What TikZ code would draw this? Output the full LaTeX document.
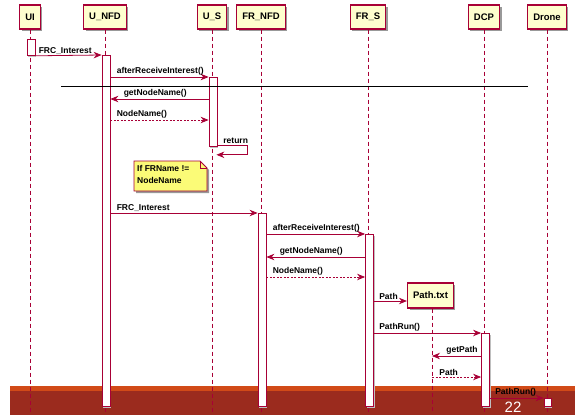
\documentclass[tikz,border=0pt]{standalone}
\usepackage{fontspec}
\newfontfamily\umlfont{Liberation Sans}
\usetikzlibrary{%
        arrows.meta,%
        calc,%
        shadows%
    }
\definecolor{umlred}{HTML}{A80036}
\definecolor{umlbox}{HTML}{FEFECE}
\definecolor{umlnote}{HTML}{FBFB77}
\definecolor{slideorange}{HTML}{D14A18}
\definecolor{slidered}{HTML}{9B2B1E}

\begin{document}
\begin{tikzpicture}[x=1pt,y=-1pt,
    actor/.style={draw=umlred,fill=umlbox,line width=1.3pt,minimum height=24pt,
      inner xsep=5.5pt,inner ysep=0pt,text=black,
      font=\umlfont\bfseries\fontsize{9.5}{11}\selectfont,
      drop shadow={shadow xshift=2pt,shadow yshift=-2pt,fill=black!40,opacity=1}},
    life/.style={umlred,dash pattern=on 4pt off 3pt,line width=0.8pt},
    bar/.style={draw=umlred,fill=white,line width=0.8pt,inner sep=0pt,
      minimum width=8pt,anchor=north,
      drop shadow={shadow xshift=1.2pt,shadow yshift=-1.2pt,fill=black!25,opacity=1}},
    msg/.style={umlred,line width=0.8pt,-{Stealth[length=8pt,width=6.5pt]}},
    reply/.style={msg,dash pattern=on 2pt off 1.5pt},
    lbl/.style={text=black,font=\umlfont\bfseries\fontsize{8.5}{10}\selectfont,
      inner sep=1pt,anchor=south west}]
  \useasboundingbox (0,0) rectangle (575,415);
  % slide footer
  \fill[slideorange] (10,386) rectangle (575,391);
  \fill[slidered] (10,391) rectangle (575,415);
  \node[white,font=\fontspec{Liberation Sans}\fontsize{15}{15}\selectfont]
    (page) at (513,407) {22};

  % participants
  \node[actor] (ui) at (30,17) {UI};
  \node[actor] (unfd) at (105,17) {U\_NFD};
  \node[actor] (us) at (212,17) {U\_S};
  \node[actor] (frnfd) at (261,17) {FR\_NFD};
  \node[actor] (frs) at (368,17) {FR\_S};
  \node[actor] (dcp) at (484,17) {DCP};
  \node[actor] (drone) at (547,17) {Drone};
  \foreach \p in {ui,unfd,us,frnfd,frs,dcp,drone}
    \draw[life] (\p.south) -- (\p.south |- 0,412);

  % activations
  \node[bar,minimum height=16pt] (uiact) at (31,39) {};
  \node[bar,minimum height=351pt] (unfdact) at (106,55) {};
  \node[bar,minimum height=69pt] (usact) at (213,77) {};
  \node[bar,minimum height=193pt] (frnfdact) at (262,213) {};
  \node[bar,minimum height=172pt] (frsact) at (369.5,234) {};

  % messages
  \draw[msg] (uiact.south east) -- (unfdact.north west)
    node[lbl,pos=0,xshift=2pt] {FRC\_Interest};
  \draw[msg] (unfdact.east |- usact.north) -- (usact.north west)
    node[lbl,pos=0,xshift=5pt] {afterReceiveInterest()};
  \draw[line width=0.8pt] (61,86) -- (528,86);% divider
  \draw[msg] (usact.west |- 0,99) -- (unfdact.east |- 0,99)
    node[lbl,pos=1,xshift=12pt] {getNodeName()};
  \draw[reply] (unfdact.east |- 0,120) -- (usact.west |- 0,120)
    node[lbl,pos=0,xshift=5pt] {NodeName()};
  \draw[msg] (usact.south east) ++(0,-1) -- ++(30,0) -- ++(0,9)
    -- ($(usact.south east)+(-1,8)$)
    node[lbl] at (222,145) {return};% self call

  % note
  \draw[umlred,fill=umlnote,line width=0.8pt,
    drop shadow={shadow xshift=2pt,shadow yshift=-2pt,fill=black!40,opacity=1}]
    (134,161) -- (200,161) -- (207,168) -- (207,191) -- (134,191) -- cycle;
  \draw[umlred,line width=0.8pt] (200,161) -- (200,168) -- (207,168);
  \node[lbl,anchor=north west,align=left,font=\umlfont\bfseries\fontsize{8.5}{12}\selectfont]
    (note) at (136,164) {If FRName !=\\NodeName};

  \draw[msg] (unfdact.east |- frnfdact.north) -- (frnfdact.north west)
    node[lbl,pos=0,xshift=5pt] {FRC\_Interest};
  \draw[msg] (frnfdact.east |- frsact.north) -- (frsact.north west)
    node[lbl,pos=0,xshift=5pt] {afterReceiveInterest()};
  \draw[msg] (frsact.west |- 0,257) -- (frnfdact.east |- 0,257)
    node[lbl,pos=1,xshift=12pt] {getNodeName()};
  \draw[reply] (frnfdact.east |- 0,277) -- (frsact.west |- 0,277)
    node[lbl,pos=0,xshift=5pt] {NodeName()};

  % created file
  \node[actor,minimum height=25pt] (pathtxt) at (430.5,295.5) {Path.txt};
  \draw[life] (pathtxt.south -| 432,0) -- (432,412);
  \draw[msg] (frsact.east |- 0,301) -- (pathtxt.west |- 0,301)
    node[lbl,pos=0,xshift=4pt] {Path};

  \node[bar,minimum height=73pt] (dcpact) at (485.5,333) {};
  \node[bar,minimum width=7pt,minimum height=8pt] (droneact) at (547.5,398) {};
  \draw[msg] (frsact.east |- dcpact.north) -- (dcpact.north west)
    node[lbl,pos=0,xshift=4pt] {PathRun()};
  \draw[msg] (dcpact.west |- 0,356) -- (432,356)
    node[lbl,pos=1,xshift=13pt] {getPath};
  \draw[reply] (432,377) -- (dcpact.west |- 0,377)
    node[lbl,pos=0,xshift=6pt] {Path};
  \draw[msg] (dcpact.east |- droneact.north) -- (droneact.north west)
    node[lbl,pos=0,xshift=4pt] {PathRun()};
\end{tikzpicture}
\end{document}
